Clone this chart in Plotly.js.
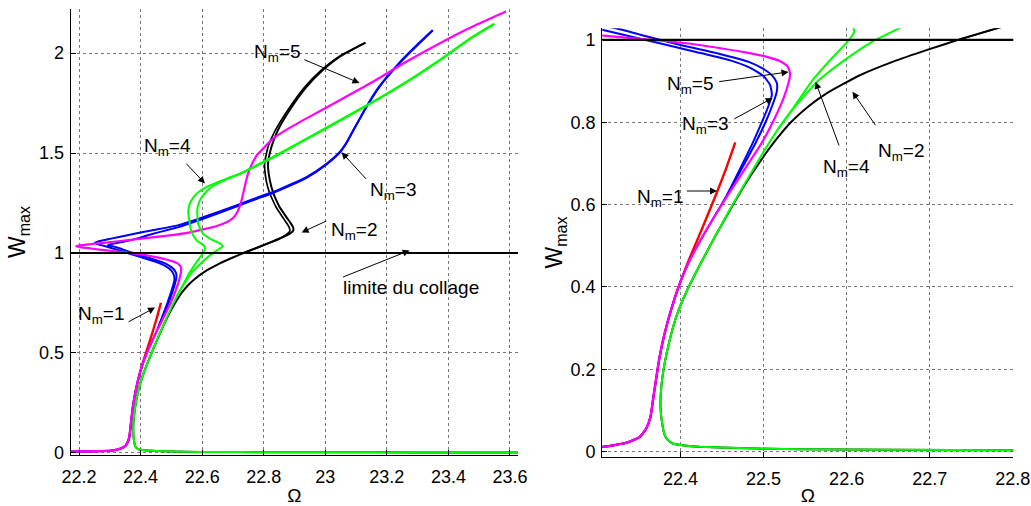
<!DOCTYPE html>
<html>
<head>
<meta charset="utf-8">
<script src="https://cdn.plot.ly/plotly-3.0.1.min.js"></script>
<style>html,body{margin:0;padding:0;background:#fff}#chart{width:1031px;height:506px}</style>
</head>
<body>
<div id="chart"></div>
<script>
// ---- data ----
const collageLimit = 1;

// N_m = 1 (red)
const nm1X = [22.173, 22.25, 22.307, 22.335, 22.351, 22.359, 22.364, 22.367, 22.371, 22.3745, 22.379, 22.385, 22.393, 22.401, 22.41, 22.423, 22.443, 22.455, 22.466];
const nm1Y = [0.007, 0.009, 0.012, 0.022, 0.036, 0.057, 0.085, 0.126, 0.180, 0.225, 0.270, 0.318, 0.372, 0.418, 0.465, 0.527, 0.625, 0.688, 0.751];

// N_m = 2 (black), two close branches
const nm2aX = [23.626, 23.3, 23.0, 22.8, 22.65, 22.543, 22.47, 22.423, 22.405, 22.391, 22.384, 22.381, 22.378, 22.376, 22.377, 22.381, 22.387, 22.395, 22.408, 22.424, 22.441, 22.460, 22.478, 22.497, 22.516, 22.535, 22.555, 22.575, 22.616, 22.656, 22.696, 22.736, 22.782, 22.819, 22.855, 22.884, 22.896, 22.895, 22.885, 22.874, 22.852, 22.841, 22.831, 22.82, 22.814, 22.825, 22.846, 22.884, 22.939, 22.992, 23.047, 23.131];
const nm2aY = [0.003, 0.003, 0.0035, 0.004, 0.005, 0.006, 0.009, 0.012, 0.015, 0.02, 0.03, 0.041, 0.069, 0.109, 0.158, 0.215, 0.271, 0.328, 0.392, 0.456, 0.520, 0.588, 0.650, 0.708, 0.760, 0.804, 0.840, 0.869, 0.914, 0.947, 0.975, 1.001, 1.029, 1.052, 1.075, 1.096, 1.112, 1.130, 1.155, 1.179, 1.229, 1.263, 1.300, 1.363, 1.447, 1.530, 1.614, 1.714, 1.831, 1.915, 1.982, 2.052];
const nm2bX = [22.736, 22.782, 22.815, 22.845, 22.872, 22.885, 22.882, 22.872, 22.861, 22.840, 22.829, 22.819, 22.808, 22.803, 22.814, 22.838, 22.878, 22.934, 22.988, 23.044, 23.128];
const nm2bY = [1.001, 1.028, 1.048, 1.066, 1.090, 1.110, 1.130, 1.155, 1.180, 1.230, 1.265, 1.300, 1.363, 1.447, 1.530, 1.614, 1.714, 1.831, 1.915, 1.982, 2.050];

// N_m = 3 (blue), two close branches
const nm3aX = [22.173, 22.25, 22.307, 22.335, 22.351, 22.359, 22.364, 22.367, 22.371, 22.3745, 22.379, 22.385, 22.393, 22.403, 22.413, 22.424, 22.440, 22.456, 22.474, 22.491, 22.503, 22.511, 22.516, 22.516, 22.511, 22.501, 22.483, 22.443, 22.399, 22.36, 22.331, 22.31, 22.294, 22.305, 22.33, 22.359, 22.40, 22.435, 22.48, 22.521, 22.603, 22.711, 22.78, 22.83, 22.88, 22.939, 23.003, 23.047, 23.07, 23.090, 23.133, 23.176, 23.241, 23.295, 23.349];
const nm3aY = [0.007, 0.009, 0.012, 0.022, 0.036, 0.057, 0.085, 0.126, 0.180, 0.225, 0.270, 0.318, 0.372, 0.428, 0.472, 0.513, 0.568, 0.623, 0.688, 0.752, 0.803, 0.843, 0.875, 0.895, 0.912, 0.928, 0.946, 0.968, 0.988, 1.008, 1.024, 1.033, 1.038, 1.045, 1.052, 1.061, 1.078, 1.094, 1.112, 1.128, 1.171, 1.232, 1.272, 1.300, 1.333, 1.376, 1.442, 1.502, 1.553, 1.610, 1.730, 1.834, 1.952, 2.036, 2.115];
const nm3bX = [22.456, 22.472, 22.487, 22.498, 22.506, 22.510, 22.508, 22.500, 22.484, 22.46, 22.42, 22.37, 22.33, 22.307, 22.275, 22.257, 22.251, 22.262, 22.29, 22.326, 22.38, 22.435, 22.521, 22.603, 22.711, 22.78, 22.83, 22.88, 22.939, 23.003, 23.047, 23.07, 23.090, 23.133, 23.176, 23.241, 23.295, 23.349];
const nm3bY = [0.623, 0.688, 0.750, 0.800, 0.840, 0.866, 0.890, 0.912, 0.932, 0.950, 0.970, 0.994, 1.013, 1.024, 1.038, 1.046, 1.050, 1.058, 1.067, 1.079, 1.096, 1.113, 1.138, 1.179, 1.238, 1.278, 1.305, 1.338, 1.380, 1.445, 1.505, 1.555, 1.610, 1.728, 1.831, 1.948, 2.032, 2.112];

// N_m = 4 (green), two close branches
const nm4aX = [23.626, 23.3, 23.0, 22.8, 22.65, 22.543, 22.47, 22.423, 22.405, 22.391, 22.384, 22.381, 22.378, 22.376, 22.377, 22.381, 22.387, 22.395, 22.408, 22.424, 22.441, 22.460, 22.480, 22.500, 22.518, 22.537, 22.559, 22.583, 22.603, 22.609, 22.607, 22.597, 22.582, 22.566, 22.558, 22.555, 22.562, 22.582, 22.614, 22.679, 22.722, 22.787, 22.830, 22.939, 23.047, 23.155, 23.263, 23.371, 23.479, 23.549];
const nm4aY = [0.003, 0.003, 0.0035, 0.004, 0.005, 0.006, 0.009, 0.012, 0.015, 0.02, 0.03, 0.041, 0.069, 0.109, 0.158, 0.215, 0.271, 0.328, 0.392, 0.456, 0.520, 0.590, 0.660, 0.728, 0.785, 0.838, 0.902, 0.957, 1.000, 1.020, 1.034, 1.047, 1.063, 1.104, 1.163, 1.213, 1.255, 1.297, 1.330, 1.372, 1.397, 1.447, 1.480, 1.572, 1.664, 1.757, 1.856, 1.965, 2.082, 2.147];
const nm4bX = [22.518, 22.537, 22.565, 22.595, 22.628, 22.655, 22.667, 22.660, 22.636, 22.603, 22.587, 22.584, 22.590, 22.603, 22.630, 22.679, 22.722, 22.787, 22.830, 22.939, 23.047, 23.155, 23.263, 23.371, 23.479, 23.549];
const nm4bY = [0.785, 0.836, 0.899, 0.947, 0.992, 1.020, 1.033, 1.045, 1.063, 1.096, 1.146, 1.213, 1.255, 1.288, 1.330, 1.368, 1.395, 1.444, 1.477, 1.569, 1.661, 1.754, 1.853, 1.962, 2.079, 2.144];

// N_m = 5 (magenta)
const nm5X = [22.173, 22.25, 22.307, 22.335, 22.351, 22.359, 22.364, 22.367, 22.371, 22.3745, 22.379, 22.385, 22.393, 22.403, 22.413, 22.424, 22.440, 22.457, 22.477, 22.497, 22.513, 22.524, 22.530, 22.532, 22.529, 22.52, 22.505, 22.48, 22.45, 22.41, 22.355, 22.307, 22.272, 22.23, 22.205, 22.191, 22.2, 22.23, 22.272, 22.381, 22.495, 22.56, 22.603, 22.645, 22.679, 22.698, 22.711, 22.72, 22.728, 22.738, 22.749, 22.765, 22.778, 22.793, 22.83, 22.88, 22.939, 23.047, 23.155, 23.263, 23.371, 23.479, 23.587];
const nm5Y = [0.007, 0.009, 0.012, 0.022, 0.036, 0.057, 0.085, 0.126, 0.180, 0.225, 0.270, 0.318, 0.372, 0.428, 0.472, 0.513, 0.568, 0.623, 0.685, 0.747, 0.808, 0.858, 0.895, 0.918, 0.935, 0.948, 0.958, 0.969, 0.979, 0.991, 1.002, 1.010, 1.016, 1.024, 1.029, 1.033, 1.037, 1.043, 1.049, 1.068, 1.088, 1.103, 1.118, 1.134, 1.154, 1.172, 1.196, 1.225, 1.263, 1.330, 1.397, 1.455, 1.490, 1.514, 1.572, 1.622, 1.673, 1.764, 1.856, 1.956, 2.048, 2.132, 2.207];

// axis ticks
const leftXTicks = [22.2, 22.4, 22.6, 22.8, 23, 23.2, 23.4, 23.6];
const leftXTickText = ['22.2', '22.4', '22.6', '22.8', '23', '23.2', '23.4', '23.6'];
const leftYTicks = [0, 0.5, 1, 1.5, 2];
const leftYTickText = ['0', '0.5', '1', '1.5', '2'];
const rightXTicks = [22.4, 22.5, 22.6, 22.7, 22.8];
const rightXTickText = ['22.4', '22.5', '22.6', '22.7', '22.8'];
const rightYTicks = [0, 0.2, 0.4, 0.6, 0.8, 1];
const rightYTickText = ['0', '0.2', '0.4', '0.6', '0.8', '1'];

// labels
const leftLabels = ['N<sub>m</sub>=5', 'N<sub>m</sub>=4', 'N<sub>m</sub>=3', 'N<sub>m</sub>=2', 'limite du collage', 'N<sub>m</sub>=1'];
const rightLabels = ['N<sub>m</sub>=5', 'N<sub>m</sub>=3', 'N<sub>m</sub>=1', 'N<sub>m</sub>=4', 'N<sub>m</sub>=2'];

// ---- styling / layout ----
const RED = '#ff0000', BLACK = '#000000', BLUE = '#0000ff', GREEN = '#00ff00', MAGENTA = '#ff00ff';
const FONT = 'Liberation Sans, Arial, sans-serif';

function curve(x, y, color, w, xa, ya) {
  return {x: x, y: y, type: 'scatter', mode: 'lines', xaxis: xa, yaxis: ya,
    line: {color: color, width: w, shape: 'spline', smoothing: 0.5}, hoverinfo: 'skip', showlegend: false};
}
const traces = [];
[['x', 'y'], ['x2', 'y2']].forEach(function (ax) {
  traces.push(curve(nm1X, nm1Y, RED, 2.4, ax[0], ax[1]));
  traces.push(curve(nm2aX, nm2aY, BLACK, 2, ax[0], ax[1]));
  traces.push(curve(nm2bX, nm2bY, BLACK, 1.7, ax[0], ax[1]));
  traces.push(curve(nm3aX, nm3aY, BLUE, 2, ax[0], ax[1]));
  traces.push(curve(nm3bX, nm3bY, BLUE, 2, ax[0], ax[1]));
  traces.push(curve(nm5X, nm5Y, MAGENTA, 2.2, ax[0], ax[1]));
  traces.push(curve(nm4aX, nm4aY, GREEN, 2, ax[0], ax[1]));
  traces.push(curve(nm4bX, nm4bY, GREEN, 2, ax[0], ax[1]));
});

function baseAxis(domain, range, ticks, text, anchor, labelGap) {
  return {domain: domain, range: range, anchor: anchor, tickvals: ticks, ticktext: text,
    ticks: 'inside', ticklen: 5, tickcolor: '#000', showline: true, linecolor: '#000', linewidth: 1.2,
    showgrid: true, gridcolor: '#777', griddash: 'dot', gridwidth: 1, zeroline: false,
    tickfont: {family: FONT, size: 18, color: '#000'}, ticklabelstandoff: labelGap};
}
function xAxis(domain, range, ticks, text, anchor) {
  const a = baseAxis(domain, range, ticks, text, anchor, 5);
  a.title = {text: 'Ω', font: {family: FONT, size: 19, color: '#000'}, standoff: 3};
  return a;
}
function yAxis(domain, range, ticks, text, anchor, titleGap) {
  const a = baseAxis(domain, range, ticks, text, anchor, 2);
  a.title = {text: 'W<sub>max</sub>', font: {family: FONT, size: 23, color: '#000'}, standoff: titleGap};
  return a;
}

const textFont = {family: FONT, size: 19, color: '#000'};
function label(text, x, y, xr, yr) {
  return {text: text, x: x, y: y, xref: xr, yref: yr, xanchor: 'left', yanchor: 'top',
    showarrow: false, font: textFont, yshift: 4, xshift: -2};
}
function arrow(hx, hy, tx, ty, xr, yr) {
  return {text: '', x: hx, y: hy, ax: tx, ay: ty, xref: xr, yref: yr, axref: xr, ayref: yr,
    showarrow: true, arrowhead: 2, arrowsize: 1.4, arrowwidth: 1, arrowcolor: '#000', standoff: 0, startstandoff: 0};
}

const annotations = [
  label(leftLabels[0], 22.767, 2.052, 'x', 'y'), arrow(23.111, 1.850, 22.927, 1.970, 'x', 'y'),
  label(leftLabels[1], 22.412, 1.580, 'x', 'y'), arrow(22.609, 1.348, 22.544, 1.454, 'x', 'y'),
  label(leftLabels[2], 23.146, 1.358, 'x', 'y'), arrow(23.053, 1.504, 23.137, 1.363, 'x', 'y'),
  label(leftLabels[3], 23.017, 1.158, 'x', 'y'), arrow(22.923, 1.103, 23.008, 1.163, 'x', 'y'),
  label(leftLabels[4], 23.057, 0.871, 'x', 'y'), arrow(23.274, 1.013, 23.053, 0.877, 'x', 'y'),
  label(leftLabels[5], 22.196, 0.740, 'x', 'y'), arrow(22.447, 0.727, 22.356, 0.652, 'x', 'y'),
  label(rightLabels[0], 22.3844, 0.915, 'x2', 'y2'), arrow(22.530, 0.922, 22.4448, 0.898, 'x2', 'y2'),
  label(rightLabels[1], 22.4024, 0.818, 'x2', 'y2'), arrow(22.511, 0.859, 22.463, 0.806, 'x2', 'y2'),
  label(rightLabels[2], 22.3478, 0.641, 'x2', 'y2'), arrow(22.444, 0.633, 22.406, 0.633, 'x2', 'y2'),
  label(rightLabels[3], 22.5714, 0.713, 'x2', 'y2'), arrow(22.5626, 0.898, 22.5915, 0.740, 'x2', 'y2'),
  label(rightLabels[4], 22.6383, 0.753, 'x2', 'y2'), arrow(22.607, 0.874, 22.636, 0.789, 'x2', 'y2')
];

const shapes = [
  {type: 'line', xref: 'x domain', yref: 'y', x0: 0, x1: 1, y0: collageLimit, y1: collageLimit, line: {color: '#000', width: 2.2}},
  {type: 'line', xref: 'x2 domain', yref: 'y2', x0: 0, x1: 1, y0: collageLimit, y1: collageLimit, line: {color: '#000', width: 2.2}}
];

const layout = {
  width: 1031, height: 506, margin: {l: 0, r: 0, t: 0, b: 0},
  paper_bgcolor: '#fff', plot_bgcolor: '#fff', showlegend: false,
  font: {family: FONT, color: '#000'},
  xaxis: xAxis([0.0686, 0.5024], [22.173, 23.626], leftXTicks, leftXTickText, 'y'),
  yaxis: yAxis([0.1008, 0.9822], [-0.01, 2.22], leftYTicks, leftYTickText, 'x', 6),
  xaxis2: xAxis([0.5842, 0.9828], [22.306, 22.8005], rightXTicks, rightXTickText, 'y2'),
  yaxis2: yAxis([0.0974, 0.9441], [-0.012, 1.028], rightYTicks, rightYTickText, 'x2', 1),
  annotations: annotations, shapes: shapes
};

Plotly.newPlot('chart', traces, layout, {staticPlot: true, displayModeBar: false});
</script>
</body>
</html>
